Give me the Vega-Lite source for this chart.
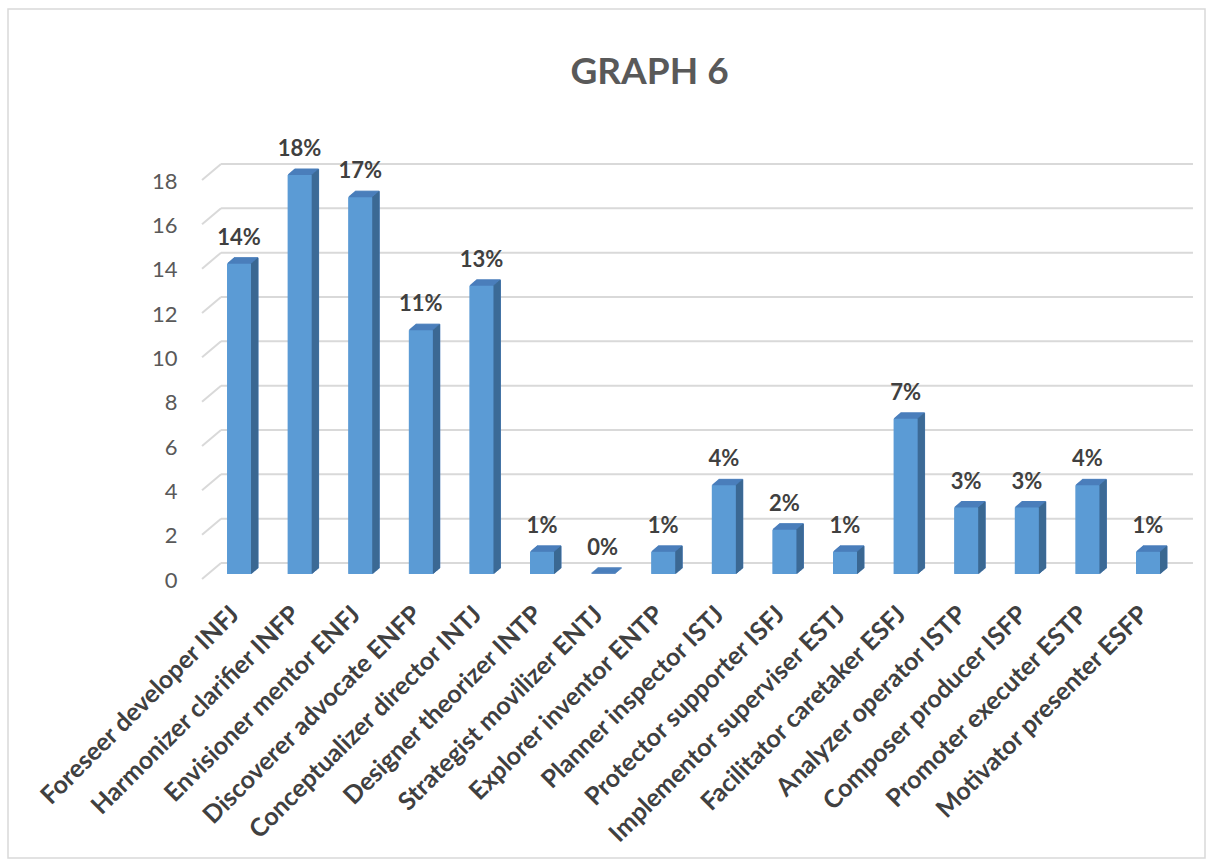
{
  "$schema": "https://vega.github.io/schema/vega-lite/v6.json",
  "width": 1197,
  "height": 849,
  "padding": {"left": 8, "top": 9, "right": 12, "bottom": 7},
  "autosize": {"type": "none"},
  "background": "white",
  "config": {
    "font": "Lato",
    "view": {"stroke": "#d9d9d9", "strokeWidth": 1.5}
  },
  "title": {
    "text": "GRAPH 6",
    "font": "Lato",
    "fontSize": 37,
    "fontWeight": "bold",
    "color": "#595959",
    "anchor": "middle",
    "offset": -83,
    "dx": 43
  },
  "datasets": {
    "types": [
      {"type": "Foreseer developer INFJ", "value": 14, "label": "14%"},
      {"type": "Harmonizer clarifier INFP", "value": 18, "label": "18%"},
      {"type": "Envisioner mentor ENFJ", "value": 17, "label": "17%"},
      {"type": "Discoverer advocate ENFP", "value": 11, "label": "11%"},
      {"type": "Conceptualizer director INTJ", "value": 13, "label": "13%"},
      {"type": "Designer theorizer INTP", "value": 1, "label": "1%"},
      {"type": "Strategist movilizer ENTJ", "value": 0, "label": "0%"},
      {"type": "Explorer inventor ENTP", "value": 1, "label": "1%"},
      {"type": "Planner inspector ISTJ", "value": 4, "label": "4%"},
      {"type": "Protector supporter ISFJ", "value": 2, "label": "2%"},
      {"type": "Implementor superviser ESTJ", "value": 1, "label": "1%"},
      {"type": "Facilitator caretaker ESFJ", "value": 7, "label": "7%"},
      {"type": "Analyzer operator ISTP", "value": 3, "label": "3%"},
      {"type": "Composer producer ISFP", "value": 3, "label": "3%"},
      {"type": "Promoter executer ESTP", "value": 4, "label": "4%"},
      {"type": "Motivator presenter ESFP", "value": 1, "label": "1%"}
    ],
    "grid": [
      {"value": 0}, {"value": 2}, {"value": 4}, {"value": 6}, {"value": 8},
      {"value": 10}, {"value": 12}, {"value": 14}, {"value": 16}, {"value": 18}
    ]
  },
  "encoding": {
    "y": {
      "field": "value", "type": "quantitative",
      "scale": {"domain": [0, 18], "range": [565, 166], "nice": false, "zero": true},
      "axis": {
        "orient": "left", "offset": -169, "title": null,
        "values": [0, 2, 4, 6, 8, 10, 12, 14, 16, 18],
        "domain": false, "ticks": false, "tickSize": 0, "grid": false,
        "labelPadding": 0, "labelOffset": 6,
        "labelFont": "Lato", "labelFontSize": 22, "labelColor": "#595959"
      }
    }
  },
  "layer": [
    {
      "data": {"name": "grid"},
      "mark": {"type": "rule", "color": "#d9d9d9", "strokeWidth": 2, "xOffset": -18, "x2Offset": 45, "yOffset": -11, "y2Offset": -11},
      "encoding": {
        "x": {"datum": "Foreseer developer INFJ", "type": "nominal"},
        "x2": {"datum": "Motivator presenter ESFP"},
        "y2": {"field": "value"}
      }
    },
    {
      "data": {"name": "grid"},
      "mark": {"type": "rule", "color": "#d9d9d9", "strokeWidth": 2, "xOffset": -37, "x2Offset": -18, "yOffset": 5, "y2Offset": -11},
      "encoding": {
        "x": {"datum": "Foreseer developer INFJ", "type": "nominal"},
        "x2": {"datum": "Foreseer developer INFJ"},
        "y2": {"field": "value"}
      }
    },
    {
      "data": {"name": "types"},
      "encoding": {
        "x": {
          "field": "type", "type": "nominal", "sort": null,
          "scale": {
            "type": "band", "range": [192, 1179], "paddingInner": 0, "paddingOuter": 0.144,
            "domain": [
              "Foreseer developer INFJ", "Harmonizer clarifier INFP", "Envisioner mentor ENFJ",
              "Discoverer advocate ENFP", "Conceptualizer director INTJ", "Designer theorizer INTP",
              "Strategist movilizer ENTJ", "Explorer inventor ENTP", "Planner inspector ISTJ",
              "Protector supporter ISFJ", "Implementor superviser ESTJ", "Facilitator caretaker ESFJ",
              "Analyzer operator ISTP", "Composer producer ISFP", "Promoter executer ESTP",
              "Motivator presenter ESFP"
            ]
          },
          "axis": {
            "orient": "bottom", "offset": -248, "title": null,
            "domain": false, "ticks": false, "tickSize": 0, "grid": false,
            "labelAngle": -45, "labelAlign": "right", "labelBaseline": "middle",
            "labelPadding": 0, "labelOffset": -4, "labelLimit": 500,
            "labelOverlap": false, "labelBound": false,
            "labelFont": "Lato", "labelFontSize": 25, "labelFontWeight": "bold", "labelColor": "#404040"
          }
        }
      },
      "layer": [
        {"mark": {"type": "bar", "width": 24, "color": "#4a7ebb", "stroke": "#4a7ebb", "strokeWidth": 1, "xOffset": 1, "yOffset": -0.857, "y2Offset": -0.857}, "encoding": {"y2": {"datum": 0}}},
        {"mark": {"type": "bar", "width": 24, "color": "#4a7ebb", "stroke": "#4a7ebb", "strokeWidth": 1, "xOffset": 2, "yOffset": -1.714, "y2Offset": -1.714}, "encoding": {"y2": {"datum": 0}}},
        {"mark": {"type": "bar", "width": 24, "color": "#4a7ebb", "stroke": "#4a7ebb", "strokeWidth": 1, "xOffset": 3, "yOffset": -2.571, "y2Offset": -2.571}, "encoding": {"y2": {"datum": 0}}},
        {"mark": {"type": "bar", "width": 24, "color": "#4a7ebb", "stroke": "#4a7ebb", "strokeWidth": 1, "xOffset": 4, "yOffset": -3.429, "y2Offset": -3.429}, "encoding": {"y2": {"datum": 0}}},
        {"mark": {"type": "bar", "width": 24, "color": "#4a7ebb", "stroke": "#4a7ebb", "strokeWidth": 1, "xOffset": 5, "yOffset": -4.286, "y2Offset": -4.286}, "encoding": {"y2": {"datum": 0}}},
        {"mark": {"type": "bar", "width": 24, "color": "#4a7ebb", "stroke": "#4a7ebb", "strokeWidth": 1, "xOffset": 6, "yOffset": -5.143, "y2Offset": -5.143}, "encoding": {"y2": {"datum": 0}}},
        {"mark": {"type": "bar", "width": 24, "color": "#4a7ebb", "stroke": "#4a7ebb", "strokeWidth": 1, "xOffset": 7, "yOffset": -6, "y2Offset": -6}, "encoding": {"y2": {"datum": 0}}},
        {"mark": {"type": "bar", "width": 1.3, "color": "#3b6892", "xOffset": 12.5, "yOffset": -0.43, "y2Offset": -0.43}, "encoding": {"y2": {"datum": 0}}},
        {"mark": {"type": "bar", "width": 1.3, "color": "#3b6892", "xOffset": 13.5, "yOffset": -1.29, "y2Offset": -1.29}, "encoding": {"y2": {"datum": 0}}},
        {"mark": {"type": "bar", "width": 1.3, "color": "#3b6892", "xOffset": 14.5, "yOffset": -2.14, "y2Offset": -2.14}, "encoding": {"y2": {"datum": 0}}},
        {"mark": {"type": "bar", "width": 1.3, "color": "#3b6892", "xOffset": 15.5, "yOffset": -3, "y2Offset": -3}, "encoding": {"y2": {"datum": 0}}},
        {"mark": {"type": "bar", "width": 1.3, "color": "#3b6892", "xOffset": 16.5, "yOffset": -3.86, "y2Offset": -3.86}, "encoding": {"y2": {"datum": 0}}},
        {"mark": {"type": "bar", "width": 1.3, "color": "#3b6892", "xOffset": 17.5, "yOffset": -4.71, "y2Offset": -4.71}, "encoding": {"y2": {"datum": 0}}},
        {"mark": {"type": "bar", "width": 1.3, "color": "#3b6892", "xOffset": 18.5, "yOffset": -5.57, "y2Offset": -5.57}, "encoding": {"y2": {"datum": 0}}},
        {"mark": {"type": "bar", "width": 24, "color": "#5b9bd5"}, "encoding": {"y2": {"datum": 0}}},
        {
          "mark": {"type": "text", "dy": -19, "baseline": "alphabetic", "align": "center", "font": "Lato", "fontSize": 22, "fontWeight": "bold", "color": "#404040"},
          "encoding": {"text": {"field": "label", "type": "nominal"}}
        }
      ]
    }
  ]
}
